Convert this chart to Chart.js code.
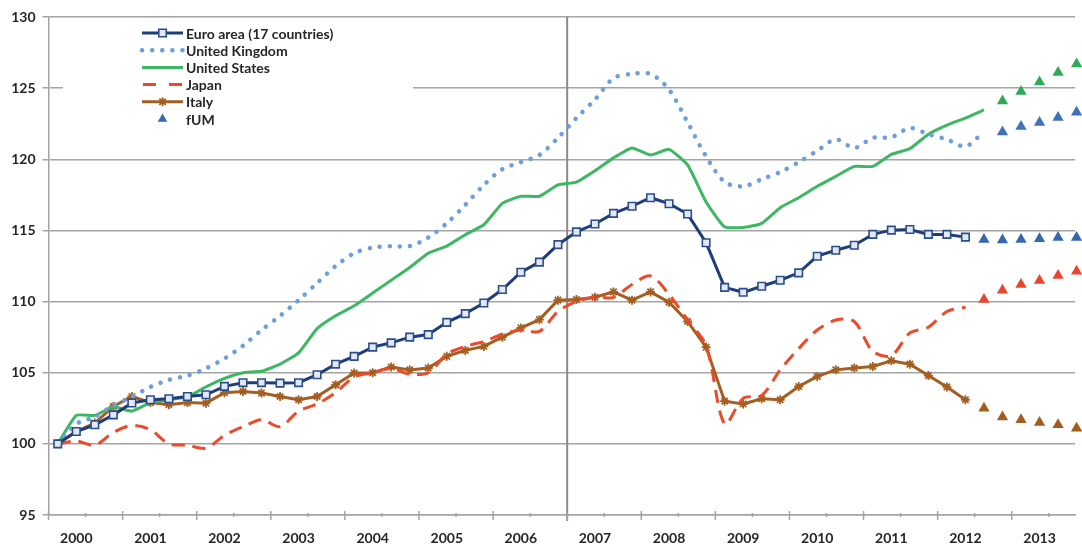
<!DOCTYPE html>
<html>
<head>
<meta charset="utf-8">
<script src="https://cdn.jsdelivr.net/npm/chart.js@4.4.1/dist/chart.umd.min.js"></script>
<style>
  html, body { margin: 0; padding: 0; background: #fff; overflow: hidden; }
  #wrap { width: 1082px; height: 547px; }
</style>
</head>
<body>
<div id="wrap"><canvas id="chart" width="1082" height="547"></canvas></div>
<script>
// quarterly index, 2000Q1 = 100; x value = quarter number from 2000Q1
const years = ["2000", "2001", "2002", "2003", "2004", "2005", "2006",
               "2007", "2008", "2009", "2010", "2011", "2012", "2013"];

// actuals, starting 2000Q1
const euroArea = [100.0, 100.87, 101.34, 102.04, 102.87, 103.1, 103.17, 103.33, 103.45, 104.04,
  104.3, 104.3, 104.27, 104.3, 104.86, 105.6, 106.15, 106.8, 107.1, 107.5,
  107.68, 108.54, 109.15, 109.9, 110.85, 112.06, 112.77, 114.0, 114.9, 115.45,
  116.2, 116.7, 117.3, 116.88, 116.15, 114.13, 111.0, 110.65, 111.08, 111.5,
  112.02, 113.19, 113.61, 113.96, 114.72, 115.02, 115.07, 114.72, 114.72, 114.53];
const unitedKingdom = [100.0, 101.4, 101.9, 102.7, 103.3, 104.0, 104.5, 104.8, 105.3, 106.0,
  106.9, 108.0, 109.0, 110.1, 111.3, 112.5, 113.4, 113.8, 113.9, 113.9,
  114.5, 115.5, 116.8, 118.2, 119.3, 119.8, 120.3, 121.5, 122.9, 124.2,
  125.7, 126.0, 126.0, 124.9, 122.6, 120.2, 118.4, 118.1, 118.6, 119.1,
  119.8, 120.6, 121.4, 120.8, 121.5, 121.55, 122.2, 121.76, 121.4, 120.9, 121.95];
const unitedStates = [100.0, 102.0, 102.0, 102.6, 102.3, 102.9, 103.1, 103.3, 104.0, 104.6,
  105.0, 105.1, 105.6, 106.4, 108.1, 109.0, 109.7, 110.6, 111.5, 112.4,
  113.4, 113.9, 114.7, 115.4, 116.9, 117.4, 117.4, 118.2, 118.4, 119.2,
  120.1, 120.8, 120.3, 120.7, 119.6, 117.0, 115.25, 115.2, 115.5, 116.6,
  117.3, 118.1, 118.8, 119.5, 119.5, 120.35, 120.75, 121.76, 122.4, 122.9, 123.47];
const japan = [100.0, 100.2, 99.9, 100.8, 101.3, 101.0, 100.0, 99.9, 99.7, 100.6,
  101.2, 101.7, 101.2, 102.3, 102.8, 103.6, 104.7, 105.0, 105.3, 104.9,
  105.0, 106.3, 106.85, 107.2, 107.7, 108.0, 107.9, 109.3, 110.0, 110.3,
  110.3, 111.2, 111.8, 110.5, 108.7, 106.9, 101.4, 103.2, 103.4, 105.2,
  106.7, 108.0, 108.7, 108.6, 106.5, 106.2, 107.8, 108.2, 109.3, 109.6];
const italy = [100.0, 100.87, 101.46, 102.63, 103.33, 102.9, 102.75, 102.9, 102.86, 103.6,
  103.68, 103.57, 103.33, 103.1, 103.33, 104.15, 104.98, 105.0, 105.4, 105.2,
  105.33, 106.15, 106.57, 106.85, 107.5, 108.15, 108.73, 110.1, 110.14, 110.3,
  110.68, 110.1, 110.68, 109.95, 108.6, 106.8, 103.0, 102.8, 103.17, 103.1,
  104.03, 104.74, 105.2, 105.33, 105.44, 105.84, 105.6, 104.8, 104.0, 103.1];

// fUM forecasts: euro, Japan, Italy from 2012Q3; UK, US from 2012Q4
const euroForecast = [114.37, 114.32, 114.37, 114.42, 114.5, 114.5];
const japanForecast = [110.14, 110.8, 111.2, 111.48, 111.83, 112.13];
const italyForecast = [102.5, 101.88, 101.69, 101.5, 101.34, 101.1];
const ukForecast = [121.92, 122.3, 122.58, 122.94, 123.3];
const usForecast = [124.1, 124.77, 125.44, 126.1, 126.7];

function toPoints(values, start) {
  return values.map((v, i) => ({ x: start + i, y: v }));
}

const gridColor = "#a4a4a4";
const textColor = "#262626";
const fontFamily = "Lato, 'Open Sans', sans-serif";

function triangles(values, start, color, label) {
  return {
    label: label || "",
    data: toPoints(values, start),
    showLine: false,
    pointStyle: "triangle",
    pointRadius: 6.5,
    pointBackgroundColor: color,
    pointBorderColor: color,
    pointBorderWidth: 0,
    borderColor: color,
    backgroundColor: color,
    clip: false
  };
}

const datasets = [
  {
    label: "Euro area (17 countries)",
    data: toPoints(euroArea, 0),
    borderColor: "#1f3d7a",
    borderWidth: 3,
    pointStyle: "rect",
    pointRadius: 5.3,
    pointBorderWidth: 1.6,
    pointBackgroundColor: "#e3e9f3",
    pointBorderColor: "#2a4d8c",
    tension: 0
  },
  {
    label: "United Kingdom",
    data: toPoints(unitedKingdom, 0),
    borderColor: "#6c9fdc",
    borderWidth: 4.5,
    borderDash: [0.1, 10],
    borderCapStyle: "round",
    pointRadius: 0,
    tension: 0.3
  },
  {
    label: "United States",
    data: toPoints(unitedStates, 0),
    borderColor: "#3db764",
    borderWidth: 3,
    pointRadius: 0,
    tension: 0.15
  },
  {
    label: "Japan",
    data: toPoints(japan, 0),
    borderColor: "#eb4b2b",
    borderWidth: 3,
    borderDash: [13, 8],
    pointRadius: 0,
    tension: 0.3
  },
  {
    label: "Italy",
    data: toPoints(italy, 0),
    borderColor: "#a55e21",
    borderWidth: 3,
    pointStyle: "star",
    pointRadius: 4.5,
    pointBorderWidth: 1.8,
    pointBorderColor: "#a55e21",
    pointBackgroundColor: "#a55e21",
    tension: 0
  },
  triangles(euroForecast, 50, "#3467ae", "fUM"),
  triangles(ukForecast, 51, "#3f72b8"),
  triangles(usForecast, 51, "#2fa956"),
  triangles(japanForecast, 50, "#e8452c"),
  triangles(italyForecast, 50, "#a25c1f")
];

// tick marks along the x axis and the 2007 divider
const axisMarks = {
  id: "axisMarks",
  beforeDatasetsDraw(chart) {
    const ctx = chart.ctx, x = chart.scales.x, area = chart.chartArea;
    const px = x.getPixelForValue(27.5);
    ctx.save();
    ctx.strokeStyle = "#8a8a8a";
    ctx.lineWidth = 2;
    ctx.beginPath();
    ctx.moveTo(px, area.top);
    ctx.lineTo(px, area.bottom + 6);
    ctx.stroke();
    ctx.restore();
  },
  afterDraw(chart) {
    const ctx = chart.ctx, x = chart.scales.x, area = chart.chartArea;
    ctx.save();
    ctx.strokeStyle = gridColor;
    ctx.lineWidth = 1.5;
    for (let q = -0.5; q < x.max; q += 2) {
      const px = x.getPixelForValue(q);
      const major = ((q + 0.5) % 4) === 0;
      ctx.beginPath();
      ctx.moveTo(px, area.bottom - (major ? 4 : 2));
      ctx.lineTo(px, area.bottom + (major ? 5 : 2));
      ctx.stroke();
    }
    ctx.restore();
  }
};

// legend drawn inside the plot, top left
const insideLegend = {
  id: "insideLegend",
  afterDatasetsDraw(chart) {
    const ctx = chart.ctx;
    ctx.save();
    ctx.fillStyle = "#fff";
    ctx.fillRect(63, 19, 350, 107);
    let row = 0;
    chart.data.datasets.forEach(ds => {
      if (!ds.label) return;
      const y = 33 + row * 17.2;
      const x0 = 142, x1 = 183, xm = 162.5;
      if (ds.showLine !== false) {
        ctx.strokeStyle = ds.borderColor;
        ctx.lineWidth = ds.borderWidth;
        ctx.lineCap = ds.borderCapStyle || "butt";
        ctx.setLineDash(ds.borderDash || []);
        ctx.beginPath();
        if (ds.label === "Japan") {
          ctx.setLineDash([]);
          ctx.moveTo(x0 + 1, y); ctx.lineTo(x0 + 14, y);
          ctx.moveTo(x1 - 14, y); ctx.lineTo(x1 - 1, y);
        } else {
          ctx.moveTo(x0, y); ctx.lineTo(x1, y);
        }
        ctx.stroke();
        ctx.setLineDash([]);
      }
      if (ds.pointRadius > 0) {
        ctx.fillStyle = ds.pointBackgroundColor;
        ctx.strokeStyle = ds.pointBorderColor;
        ctx.lineWidth = ds.pointBorderWidth;
        Chart.helpers.drawPoint(ctx, {
          pointStyle: ds.pointStyle,
          radius: ds.pointStyle === "triangle" ? 5.5 : ds.pointRadius,
          rotation: 0,
          borderWidth: ds.pointBorderWidth
        }, xm, y);
      }
      ctx.fillStyle = textColor;
      ctx.font = "bold 14px " + fontFamily;
      ctx.textBaseline = "middle";
      ctx.textAlign = "left";
      ctx.fillText(ds.label, 186, y + 1);
      row++;
    });
    ctx.restore();
  }
};

new Chart(document.getElementById("chart"), {
  type: "line",
  data: { datasets: datasets },
  options: {
    responsive: false,
    animation: false,
    devicePixelRatio: 1,
    layout: { padding: { top: 17, right: 0, left: 0, bottom: 0 } },
    plugins: {
      legend: { display: false },
      tooltip: { enabled: false }
    },
    scales: {
      x: {
        type: "linear",
        min: -0.5,
        max: 54.92,
        grid: { display: false, drawTicks: false },
        border: { display: true, color: gridColor, width: 1.5 },
        ticks: {
          autoSkip: false,
          maxRotation: 0,
          padding: 15,
          color: textColor,
          font: { family: fontFamily, size: 14, weight: "bold" },
          callback: v => years[(v - 1) / 4]
        },
        afterBuildTicks: s => { s.ticks = years.map((y, k) => ({ value: 4 * k + 1 })); },
        afterFit: s => { s.height = 32; }
      },
      y: {
        min: 95,
        max: 130,
        ticks: {
          stepSize: 5,
          padding: 7,
          color: textColor,
          font: { family: fontFamily, size: 14, weight: "bold" }
        },
        grid: { color: gridColor, lineWidth: 1.5, tickLength: 6 },
        border: { color: gridColor, width: 1.5 },
        afterFit: s => { s.width = 48.5; }
      }
    }
  },
  plugins: [axisMarks, insideLegend]
});
</script>
</body>
</html>
